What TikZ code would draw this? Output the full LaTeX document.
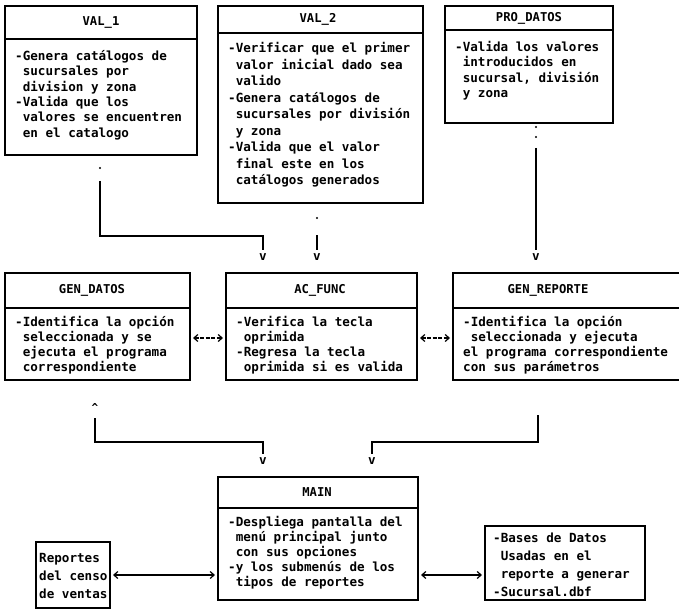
\documentclass[tikz,border=0pt]{standalone}
\usepackage{fontspec}
\setmonofont{DejaVu Sans Mono}
\usetikzlibrary{arrows.meta,calc}

% box with a title strip: name, x, y, width, height, strip height, title centre x, title
\newcommand\umlbox[8]{%
  \node[frame, minimum width=#4pt, minimum height=#5pt] (#1) at (#2,#3) {};
  \draw[rule] ($(#1.north west)+(0,#6)$) -- ++(#4,0);
  \node[hdr] (#1-t) at (#7,#3+#6/2) {#8};
}
\newcommand\firstline{\rule{0pt}{10.5pt}}
\newcommand\ind{\phantom{-}}

\begin{document}
\begin{tikzpicture}[x=1pt,y=-1pt,
  frame/.style={draw, line width=1.2pt, inner sep=0pt, outer sep=0pt, anchor=north west},
  rule/.style={line width=1.2pt},
  hdr/.style={font=\ttfamily\bfseries\fontsize{12.2}{14}\selectfont, inner sep=0pt},
  body/.style={font=\ttfamily\bfseries\fontsize{12.6}{#1}\selectfont, align=left, inner sep=0pt, anchor=north west},
  body/.default=15,
  conn/.style={line width=1.2pt},
  biarrow/.style={line width=1.2pt, shorten <=3pt, shorten >=3pt,
    {Straight Barb[length=4pt,width=7pt]}-{Straight Barb[length=4pt,width=7pt]}},
  vtip/.style={font=\ttfamily\bfseries\fontsize{12.6}{14}\selectfont, inner sep=1pt},
  caret/.style={font=\ttfamily\bfseries\fontsize{11}{12}\selectfont, inner sep=0pt},
  dotmark/.style={circle, fill, inner sep=0pt, minimum size=2.4pt},
]
\useasboundingbox[fill=white] (0,0) rectangle (679,612);

% ---- upper row
\umlbox{val1}{5}{6}{192}{149}{33}{101}{VAL\_1}
\node[body=15.3] (val1-b) at (15,50) {\firstline-Genera catálogos de\\
  \ind sucursales por\\
  \ind division y zona\\
  -Valida que los\\
  \ind valores se encuentren\\
  \ind en el catalogo};

\umlbox{val2}{218}{6}{205}{197}{27}{318}{VAL\_2}
\node[body=16.5] (val2-b) at (228,42) {\firstline-Verificar que el primer\\
  \ind valor inicial dado sea\\
  \ind valido\\
  -Genera catálogos de\\
  \ind sucursales por división\\
  \ind y zona\\
  -Valida que el valor\\
  \ind final este en los\\
  \ind catálogos generados};

\umlbox{prodatos}{445}{6}{168}{117}{24}{529}{PRO\_DATOS}
\node[body=15.3] (prodatos-b) at (455,41) {\firstline-Valida los valores\\
  \ind introducidos en\\
  \ind sucursal, división\\
  \ind y zona};

% ---- middle row
\umlbox{gendatos}{5}{273}{185}{107}{35}{92}{GEN\_DATOS}
\node[body] (gendatos-b) at (15,316) {\firstline-Identifica la opción\\
  \ind seleccionada y se\\
  \ind ejecuta el programa\\
  \ind correspondiente};

\umlbox{acfunc}{226}{273}{191}{107}{35}{320}{AC\_FUNC}
\node[body] (acfunc-b) at (236,316) {\firstline-Verifica la tecla\\
  \ind oprimida\\
  -Regresa la tecla\\
  \ind oprimida si es valida};

\umlbox{genrep}{453}{273}{231}{107}{35}{548}{GEN\_REPORTE}
\node[body] (genrep-b) at (463,316) {\firstline-Identifica la opción\\
  \ind seleccionada y ejecuta\\
  el programa correspondiente\\
  con sus parámetros};

% ---- lower row
\umlbox{main}{218}{477}{200}{123}{31}{317}{MAIN}
\node[body] (main-b) at (228,516) {\firstline-Despliega pantalla del\\
  \ind menú principal junto\\
  \ind con sus opciones\\
  -y los submenús de los\\
  \ind tipos de reportes};

\node[frame, minimum width=74pt, minimum height=66pt] (reportes) at (36,542) {};
\node[body=18] (reportes-b) at (39,552) {\firstline Reportes\\
  del censo\\
  de ventas};

\node[frame, minimum width=160pt, minimum height=74pt] (datos) at (485,526) {};
\node[body=17.8] (datos-b) at (493,532) {\firstline-Bases de Datos\\
  \ind Usadas en el\\
  \ind reporte a generar\\
  -Sucursal.dbf};

% ---- links from the upper row down to AC_FUNC and GEN_REPORTE
\node[dotmark] (m1) at (100,168) {};
\node[vtip] (v1) at (263,257) {v};
\coordinate (k1) at (263,236);
\draw[conn, shorten >=2pt] ([yshift=-13pt]m1.center) |- (k1) -- (v1.north);

\node[dotmark] (m2) at (317,218) {};
\node[vtip] (v2) at (317,257) {v};
\draw[conn, shorten >=2pt] ([yshift=-17pt]m2.center) -- (v2.north);

\node[dotmark] (m3a) at (536,127) {};
\node[dotmark] (m3b) at (536,137) {};
\node[vtip] (v3) at (536,257) {v};
\draw[conn, shorten >=2pt] ([yshift=-11pt]m3b.center) -- (v3.north);

% ---- middle row side links
\coordinate (ymid) at (0,338);
\draw[biarrow, dash pattern=on 4pt off 1.5pt] (gendatos.east |- ymid) -- (acfunc.west |- ymid);
\draw[biarrow, dash pattern=on 4pt off 1.5pt] (acfunc.east |- ymid) -- (genrep.west |- ymid);

% ---- links down to MAIN
\node[caret] (c4) at (95,407) {\textasciicircum};
\node[vtip] (v4) at (263,461) {v};
\coordinate (k4) at (263,442);
\draw[conn, shorten >=2pt] ([yshift=-11pt]c4.center) |- (k4) -- (v4.north);

\coordinate (s5) at (538,415);
\node[vtip] (v5) at (372,461) {v};
\coordinate (k5) at (372,442);
\draw[conn, shorten >=2pt] (s5) |- (k5) -- (v5.north);

% ---- lower row side links
\coordinate (ylow) at (0,575);
\draw[biarrow] (reportes.east |- ylow) -- (main.west |- ylow);
\draw[biarrow] (main.east |- ylow) -- (datos.west |- ylow);
\end{tikzpicture}
\end{document}
